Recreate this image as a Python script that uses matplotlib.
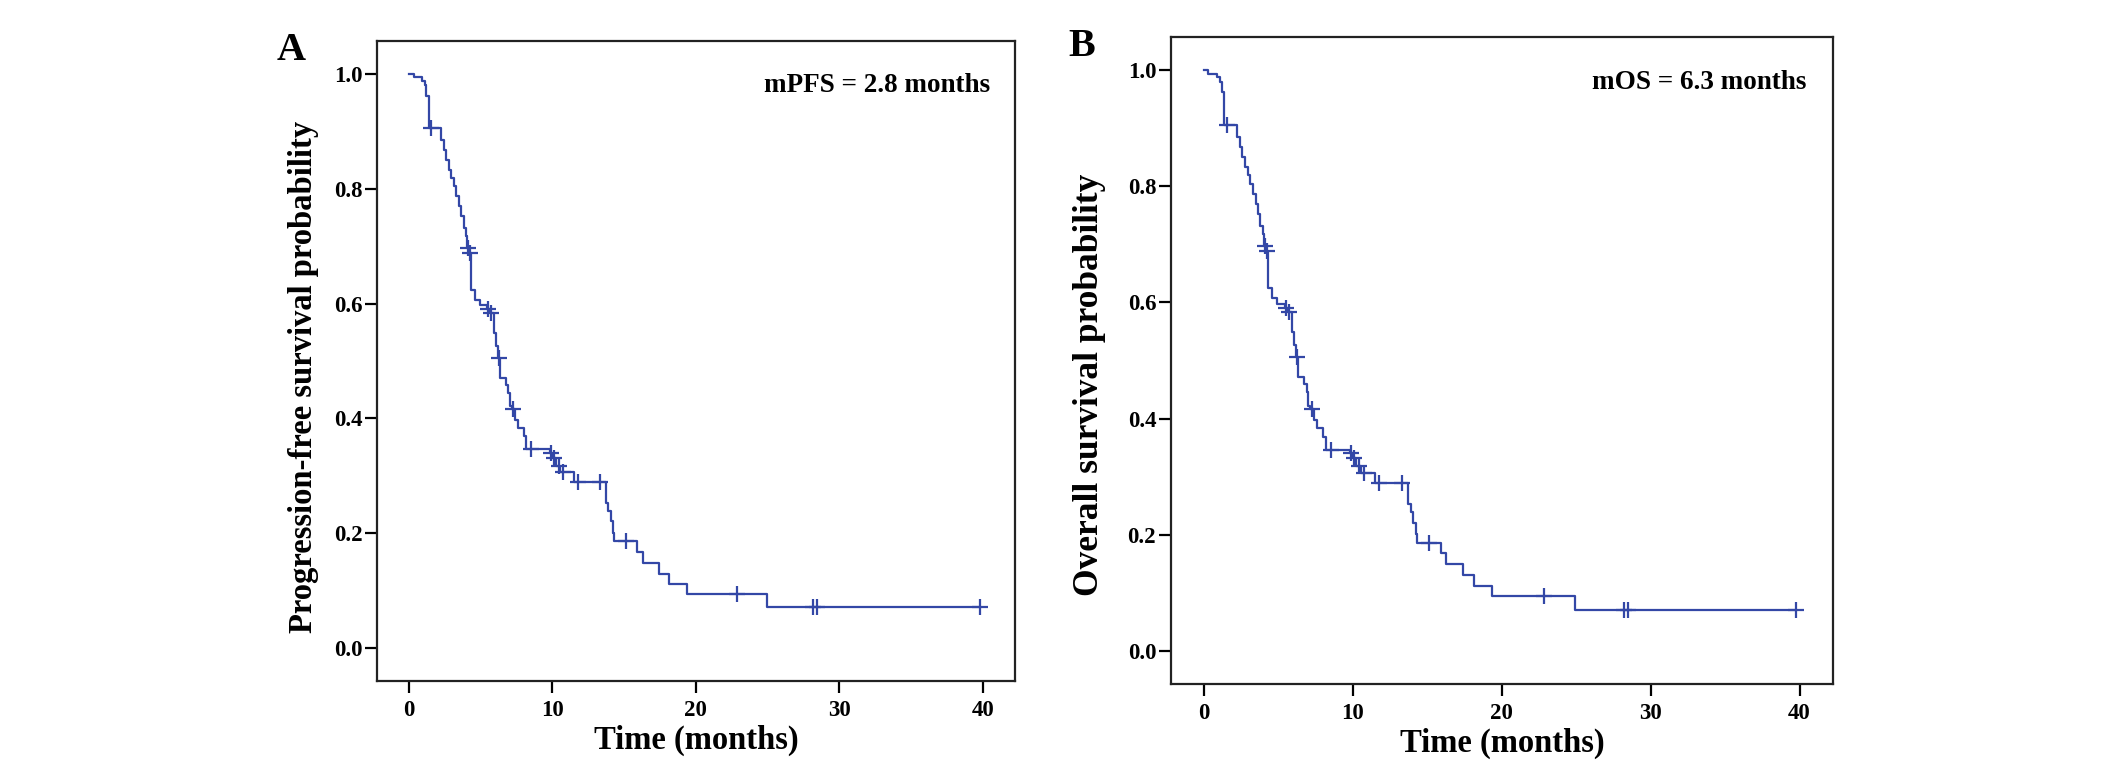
import numpy as np
import matplotlib
matplotlib.use("Agg")
import matplotlib.pyplot as plt

plt.rcParams['font.family'] = ['Liberation Serif', 'DejaVu Serif']
plt.rcParams['font.weight'] = 'bold'

# ---- Data (both panels show the same curve) ----
step_times = [0.0, 0.33, 0.93, 1.10, 1.21, 1.40, 2.26, 2.44, 2.61, 2.79, 2.95,
              3.12, 3.30, 3.49, 3.65, 3.82, 3.96, 4.07, 4.20, 4.35, 4.58, 4.93,
              5.45, 5.65, 5.91, 6.10, 6.20, 6.33, 6.75, 6.91, 7.03, 7.15, 7.38,
              7.60, 8.00, 8.19, 9.85, 10.00, 10.25, 10.55, 11.49, 13.73, 13.89,
              14.05, 14.23, 14.30, 15.91, 16.29, 17.40, 18.12, 19.36, 24.94, 39.78]
step_surv = [1.000, 0.994, 0.988, 0.980, 0.962, 0.906, 0.885, 0.868, 0.850, 0.833, 0.819,
             0.804, 0.787, 0.769, 0.752, 0.732, 0.717, 0.697, 0.688, 0.624, 0.607, 0.598,
             0.591, 0.584, 0.549, 0.526, 0.506, 0.471, 0.459, 0.445, 0.421, 0.416, 0.398,
             0.384, 0.369, 0.346, 0.340, 0.332, 0.318, 0.306, 0.289, 0.253, 0.239,
             0.221, 0.201, 0.186, 0.168, 0.149, 0.130, 0.111, 0.094, 0.071, 0.071]
censor_times = [1.55, 4.12, 4.25, 5.50, 5.72, 6.25, 7.28, 8.54, 9.92, 10.12, 10.45,
                10.75, 11.75, 13.31, 15.10, 22.85, 28.19, 28.47, 39.78]

pfs_times, pfs_surv = step_times, step_surv
os_times, os_surv = step_times, step_surv

x_ticks = [0, 10, 20, 30, 40]
y_ticks = [0.0, 0.2, 0.4, 0.6, 0.8, 1.0]

panels = [
    dict(letter="A", ylabel="Progression-free survival probability",
         note="mPFS = 2.8 months", t=pfs_times, s=pfs_surv,
         rect=[0.1775, 0.1098, 0.3000, 0.8366], ylab_x=-0.091, ylab_y=0.475,
         ylab_fs=23.5),
    dict(letter="B", ylabel="Overall survival probability",
         note="mOS = 6.3 months", t=os_times, s=os_surv,
         rect=[0.5507, 0.1059, 0.3115, 0.8458], ylab_x=-0.098, ylab_y=0.462,
         ylab_fs=25.5),
]

line_color = "#3347a6"

fig = plt.figure(figsize=(21.26, 7.65), dpi=100)

for p in panels:
    ax = fig.add_axes(p["rect"])
    t = np.asarray(p["t"])
    s = np.asarray(p["s"])
    ax.step(t, s, where="post", color=line_color, lw=1.6)
    ct = np.asarray(censor_times)
    idx = np.searchsorted(t, ct, side="right") - 1
    ax.plot(ct, s[idx], linestyle="none", marker="+", markersize=11,
            markeredgewidth=1.6, color=line_color)

    ax.set_xlim(-2.2, 42.25)
    ax.set_ylim(-0.057, 1.057)
    ax.set_xticks(x_ticks)
    ax.set_xticklabels([str(v) for v in x_ticks])
    ax.set_yticks(y_ticks)
    ax.set_yticklabels([f"{v:.1f}" for v in y_ticks])
    ax.tick_params(direction="out", length=8.5, width=1.6, labelsize=16.5,
                   pad=2, colors="black")
    ax.tick_params(axis="x", pad=5)
    for lab in ax.get_xticklabels() + ax.get_yticklabels():
        lab.set_fontweight("bold")
    for sp in ax.spines.values():
        sp.set_linewidth(1.6)
        sp.set_color("#222222")

    ax.set_xlabel("Time (months)", fontsize=23.5, fontweight="bold", labelpad=3)
    ax.set_ylabel(p["ylabel"], fontsize=p["ylab_fs"], fontweight="bold")
    ax.yaxis.set_label_coords(p["ylab_x"], p["ylab_y"])

    ax.text(0.96, 0.93, p["note"], transform=ax.transAxes, ha="right",
            va="center", fontsize=19.5, fontweight="bold")
    ax.text(-0.135, 0.985, p["letter"], transform=ax.transAxes, ha="center",
            va="center", fontsize=29, fontweight="bold")

fig.savefig("out.png", dpi=100)
